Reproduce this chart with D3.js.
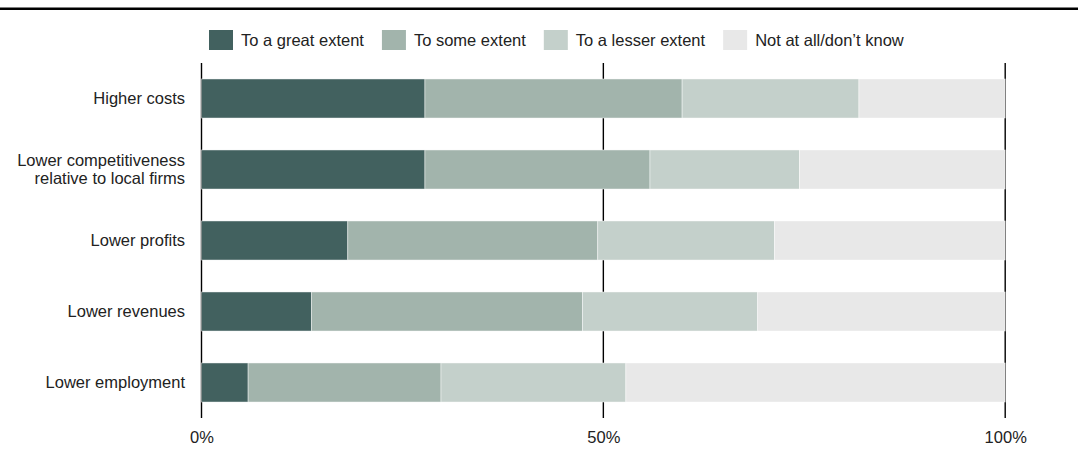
<!DOCTYPE html>
<html>
<head>
<meta charset="utf-8">
<script src="https://cdn.jsdelivr.net/npm/d3@7"></script>
<style>
  html, body { margin: 0; padding: 0; background: #fff; }
  svg { display: block; font-family: "Liberation Sans", Arial, sans-serif; }
</style>
</head>
<body>
<svg id="chart" width="1078" height="462"></svg>
<script>
// Impact categories (top to bottom); "\n" splits a label over two lines
const categories = [
  "Higher costs",
  "Lower competitiveness\nrelative to local firms",
  "Lower profits",
  "Lower revenues",
  "Lower employment"
];

// Response options, in stacking order
const seriesNames = ["To a great extent", "To some extent", "To a lesser extent", "Not at all/don\u2019t know"];

// Share of respondents (%) per category
const greatExtent  = [27.8, 27.8, 18.2, 13.7,  5.8];
const someExtent   = [32.0, 28.0, 31.1, 33.7, 24.0];
const lesserExtent = [22.0, 18.6, 22.0, 21.8, 23.0];
const notAtAll     = [18.2, 25.6, 28.7, 30.8, 47.2];

const tickValues = [0, 50, 100];
const colors = ["#42615f", "#a2b4ac", "#c4d0cb", "#e8e8e8"];

// Rows for d3.stack, built from the arrays above
const seriesArrays = [greatExtent, someExtent, lesserExtent, notAtAll];
const rows = categories.map((c, i) => {
  const r = { category: c };
  seriesNames.forEach((s, j) => { r[s] = seriesArrays[j][i]; });
  return r;
});

const svg = d3.select("#chart");
const fontSize = 16.5;
const textColor = "#222";

const x = d3.scaleLinear().domain([0, 100]).range([201.5, 1005.2]);
const y = d3.scaleBand().domain(categories).range([63, 418])
  .paddingInner(0.45).paddingOuter(0.225);
const color = d3.scaleOrdinal().domain(seriesNames).range(colors);

// Thick rule across the top
svg.append("line")
  .attr("x1", 0).attr("x2", 1078)
  .attr("y1", 8.7).attr("y2", 8.7)
  .attr("stroke", "#000").attr("stroke-width", 2.5);

// Vertical reference lines at 0%, 50%, 100%
svg.append("g").selectAll("line")
  .data(tickValues)
  .join("line")
  .attr("x1", d => x(d)).attr("x2", d => x(d))
  .attr("y1", y.range()[0]).attr("y2", y.range()[1])
  .attr("stroke", "#000").attr("stroke-width", 1.4);

// Stacked bars
const stacked = d3.stack().keys(seriesNames)(rows);
svg.append("g").selectAll("g")
  .data(stacked)
  .join("g")
  .attr("fill", d => color(d.key))
  .selectAll("rect")
  .data(d => d)
  .join("rect")
  .attr("x", d => x(d[0]))
  .attr("width", d => x(d[1]) - x(d[0]))
  .attr("y", d => y(d.data.category))
  .attr("height", y.bandwidth())
  .attr("stroke", "#fff").attr("stroke-width", 0.8).attr("stroke-opacity", 0.55);

// Category labels, right-aligned left of the bars
const labelG = svg.append("g");
categories.forEach(c => {
  const lines = c.split("\n");
  const lh = 18;
  const cy = y(c) + y.bandwidth() / 2;
  const t = labelG.append("text")
    .attr("text-anchor", "end")
    .attr("font-size", fontSize)
    .attr("fill", textColor);
  lines.forEach((ln, i) => {
    t.append("tspan")
      .attr("x", 185)
      .attr("y", cy + (i - (lines.length - 1) / 2) * lh)
      .attr("dy", "0.35em")
      .text(ln);
  });
});

// Bottom percentage axis
const axis = d3.axisBottom(x)
  .tickValues(tickValues)
  .tickSize(0)
  .tickPadding(13.3)
  .tickFormat(d => d + "%");
const axisG = svg.append("g")
  .attr("transform", `translate(0,${y.range()[1]})`)
  .call(axis);
axisG.select(".domain").remove();
axisG.selectAll("text")
  .attr("font-size", fontSize)
  .attr("font-family", "Liberation Sans, Arial, sans-serif")
  .attr("fill", textColor);

// Legend
const legend = svg.append("g");
let lx = 209;
seriesNames.forEach(s => {
  legend.append("rect")
    .attr("x", lx).attr("y", 30)
    .attr("width", 24).attr("height", 20)
    .attr("fill", color(s));
  const t = legend.append("text")
    .attr("x", lx + 32).attr("y", 40)
    .attr("dy", "0.35em")
    .attr("font-size", fontSize)
    .attr("fill", textColor)
    .text(s);
  lx += 32 + t.node().getComputedTextLength() + 18;
});
</script>
</body>
</html>
